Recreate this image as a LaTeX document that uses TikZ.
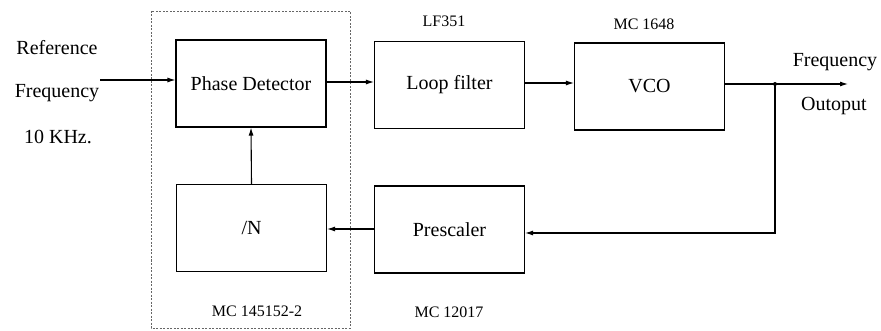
\documentclass[tikz,border=0pt]{standalone}
\usepackage{fontspec}
\setmainfont{Liberation Serif}
\usetikzlibrary{arrows.meta}

\tikzset{
  block/.style={draw, line width=1.1pt, minimum width=150pt, minimum height=87pt, inner sep=0pt, font=\fontsize{20}{24}\selectfont},
  txt/.style={font=\fontsize{20}{24}\selectfont, inner sep=0pt},
  chip/.style={font=\fontsize{16}{19}\selectfont, inner sep=0pt},
  wire/.style={line width=1.1pt, -{Latex[length=8pt,width=5pt]}},
}

\begin{document}
\begin{tikzpicture}[x=1pt, y=-1pt]
        \useasboundingbox (0,0) rectangle (881,331);

        % --- PLL chip outline ---
        \draw[gray!80!black, line width=0.8pt, dash pattern=on 2pt off 1.5pt] (151,11) rectangle (350,328);

        % --- Blocks ---
        \node[block] (pd) at (251,83.5) {Phase Detector};
        \node[block] (divn) at (251.5,228) {/N};
        \node[block] (lf) at (449.5,85) {Loop filter};
        \node[block] (presc) at (449.5,229.5) {Prescaler};
        \node[block] (vco) at (649.5,86.5) {VCO};

        % --- Part numbers ---
        \node[chip] (lfpart) at (444,21) {LF351};
        \node[chip] (vcopart) at (644,24) {MC 1648};
        \node[chip] (pdpart) at (257,311) {MC 145152-2};
        \node[chip] (prescpart) at (449,312) {MC 12017};

        % --- Input side ---
        \node[txt] (refa) at (57,48) {Reference};
        \node[txt] (refb) at (57,93) {Frequency};
        \node[txt] (refc) at (58,137) {10 KHz.};
        \coordinate (refin) at (100,80);
        \draw[wire] (refin) -- (refin -| pd.west);

        % --- Forward path ---
        \draw[wire] (pd.east |- 0,82) -- (lf.west |- 0,82);
        \draw[wire] (lf.east |- 0,83) -- (vco.west |- 0,83);

        % --- Output and feedback ---
        \coordinate (tap) at (775,84);
        \coordinate (out) at (848,84);
        \draw[line width=1.1pt] (vco.east |- tap) -- (tap);
        \fill (tap) circle (2pt);
        \draw[wire] (tap) -- (out);
        \node[txt] (outa) at (835,62) {Frequency};
        \node[txt] (outb) at (834,106) {Outoput};
        \draw[wire] (tap) |- (presc.east |- 0,233);
        \draw[wire] (presc.west |- 0,229) -- (divn.east |- 0,229);
        \draw[wire] (divn.north) -- (pd.south);
\end{tikzpicture}
\end{document}
